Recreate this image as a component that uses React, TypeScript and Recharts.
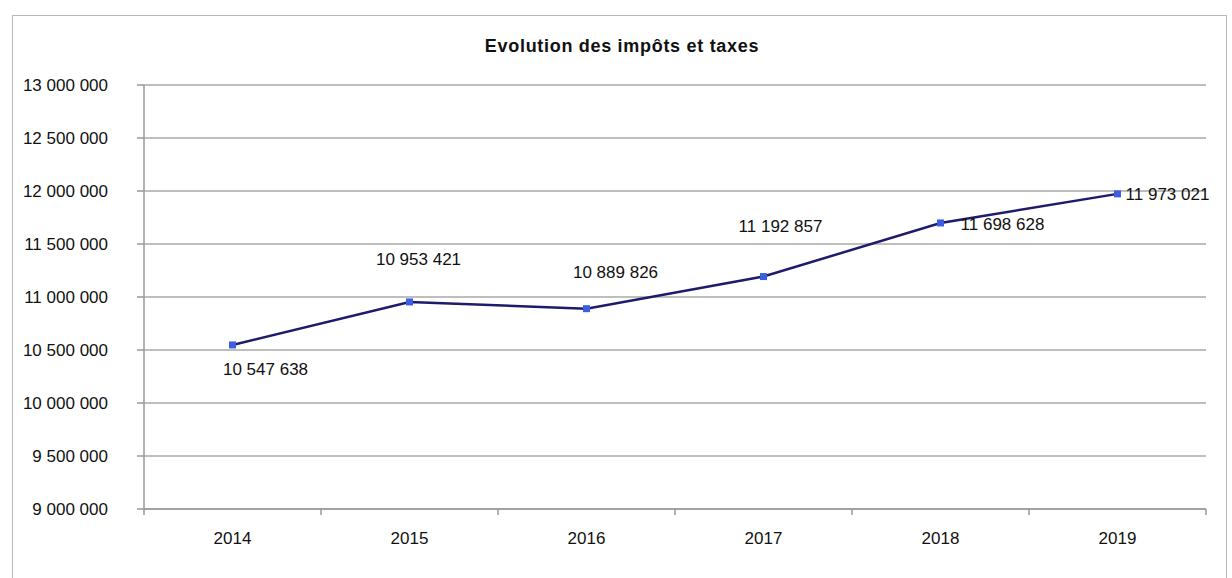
import React from "react";
import {
  ComposedChart,
  Line,
  XAxis,
  YAxis,
  CartesianGrid,
} from "recharts";

const years = ["2014", "2015", "2016", "2017", "2018", "2019"];
const taxes = [10547638, 10953421, 10889826, 11192857, 11698628, 11973021];
const yTicks = [9000000, 9500000, 10000000, 10500000, 11000000, 11500000, 12000000, 12500000, 13000000];
const boundaryTicks = [2013.5, 2014.5, 2015.5, 2016.5, 2017.5, 2018.5, 2019.5];
const title = "Evolution des impôts et taxes";

const data = years.map((y, i) => ({ year: y, yearNum: Number(y), value: taxes[i] }));

// label placement relative to each point (style, not data)
const labelShift = [
  { dx: 33, dy: 25 },
  { dx: 9, dy: -42 },
  { dx: 29, dy: -36 },
  { dx: 17, dy: -50 },
  { dx: 62, dy: 2 },
  { dx: 50, dy: 1 },
];

const FONT = "'Liberation Sans', Arial, sans-serif";

const fmt = (v: number) =>
  String(Math.round(v)).replace(/\B(?=(\d{3})+(?!\d))/g, " ");

const SquareDot = (props: any) => {
  const { cx, cy } = props;
  if (cx == null || cy == null) return null;
  return <rect x={cx - 3.5} y={cy - 3.5} width={7} height={7} fill="#3b5fe0" />;
};

const EmptyTick = () => <g />;

const ValueLabel = (props: any) => {
  const { x, y, index, value } = props;
  const s = labelShift[index] || { dx: 0, dy: -20 };
  return (
    <text
      x={x + s.dx}
      y={y + s.dy}
      textAnchor="middle"
      dominantBaseline="central"
      fontFamily={FONT}
      fontSize={17}
      fill="#111"
    >
      {fmt(value)}
    </text>
  );
};

export default function App() {
  return (
    <div
      style={{
        position: "absolute",
        left: 0,
        top: 0,
        width: 1232,
        height: 578,
        overflow: "hidden",
        background: "#fff",
      }}
    >
      <div
        style={{
          position: "absolute",
          left: 12,
          top: 15,
          width: 1215,
          height: 600,
          border: "1.5px solid #b8b8b8",
          boxSizing: "border-box",
        }}
      />
      <div
        style={{
          position: "absolute",
          left: 0,
          top: 35,
          width: 1244,
          textAlign: "center",
          fontFamily: FONT,
          fontWeight: "bold",
          fontSize: 18,
          letterSpacing: 0.7,
          color: "#111",
          lineHeight: "22px",
        }}
      >
        {title}
      </div>
      <div style={{ position: "absolute", left: 0, top: 0 }}>
        <ComposedChart
          width={1232}
          height={578}
          data={data}
          margin={{ top: 85, right: 26, bottom: 28, left: 14 }}
        >
          <CartesianGrid
            xAxisId="cat"
            vertical={false}
            stroke="#a8a8a8"
            strokeWidth={1.5}
          />
          <XAxis
            xAxisId="bnd"
            type="number"
            dataKey="yearNum"
            domain={[2013.5, 2019.5]}
            ticks={boundaryTicks}
            interval={0}
            allowDataOverflow
            height={1}
            tick={<EmptyTick />}
            tickSize={6}
            axisLine={{ stroke: "#999", strokeWidth: 1.5 }}
            tickLine={{ stroke: "#999", strokeWidth: 1.5 }}
          />
          <XAxis
            xAxisId="cat"
            dataKey="year"
            scale="band"
            height={40}
            axisLine={false}
            tickLine={false}
            tickSize={0}
            tickMargin={22}
            tick={{ fontFamily: FONT, fontSize: 17, fill: "#111" }}
          />
          <YAxis
            width={130}
            domain={[9000000, 13000000]}
            ticks={yTicks}
            interval={0}
            tickFormatter={fmt}
            tickSize={7}
            tickMargin={29}
            axisLine={{ stroke: "#999", strokeWidth: 1.5 }}
            tickLine={{ stroke: "#999", strokeWidth: 1.5 }}
            tick={{ fontFamily: FONT, fontSize: 17, fill: "#111" }}
          />
          <Line
            xAxisId="cat"
            dataKey="value"
            stroke="#1e1a6c"
            strokeWidth={2.5}
            dot={<SquareDot />}
            activeDot={false}
            label={<ValueLabel />}
            isAnimationActive={false}
          />
        </ComposedChart>
      </div>
    </div>
  );
}
